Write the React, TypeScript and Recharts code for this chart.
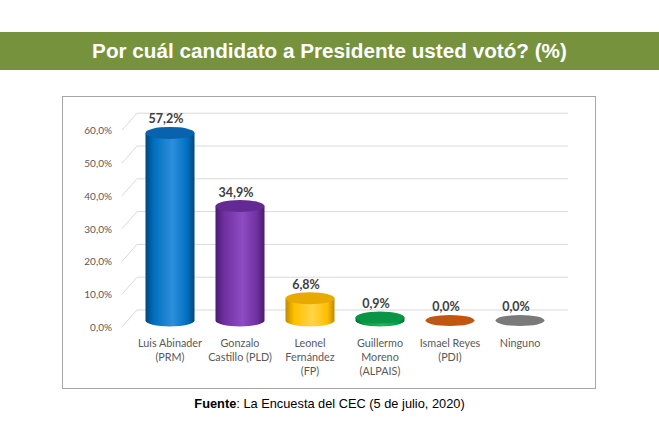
import React from 'react';
import { BarChart, Bar, XAxis, YAxis, CartesianGrid, LabelList } from 'recharts';

const candidateLines: string[][] = [
  ['Luis Abinader', '(PRM)'],
  ['Gonzalo', 'Castillo (PLD)'],
  ['Leonel', 'Fernández', '(FP)'],
  ['Guillermo', 'Moreno', '(ALPAIS)'],
  ['Ismael Reyes', '(PDI)'],
  ['Ninguno'],
];
const votePercent = [57.2, 34.9, 6.8, 0.9, 0.0, 0.0];
const yTicks = [0, 10, 20, 30, 40, 50, 60];

// base, dark edge, highlight, top ellipse
const palette = [
  ['#0070C0', '#00477F', '#2E8FDC', '#0862AE'],
  ['#7030A0', '#4A1A70', '#8D4CC2', '#652994'],
  ['#FFC000', '#C08A00', '#FFD447', '#E8AA00'],
  ['#00A04A', '#006F33', '#1DB85F', '#0A9446'],
  ['#C55A11', '#8E3D08', '#D8722A', '#C0560F'],
  ['#7F7F7F', '#5A5A5A', '#999999', '#7A7A7A'],
];

const data = candidateLines.map((lines, i) => ({
  name: lines.join('\n'),
  value: votePercent[i],
  idx: i,
}));

const fmt = (v: number) => v.toFixed(1).replace('.', ',') + '%';

const Cylinder = (props: any) => {
  const { x, y, width, height, payload } = props;
  const i = payload.idx;
  const [base, dark, light, top] = palette[i];
  const rx = width / 2;
  const ry = 6;
  const cx = x + rx;
  const yb = y + height;
  const gid = `cyl-${i}`;
  return (
    <g>
      <defs>
        <linearGradient id={gid} x1="0" y1="0" x2="1" y2="0">
          <stop offset="0%" stopColor={dark} />
          <stop offset="18%" stopColor={base} />
          <stop offset="55%" stopColor={light} />
          <stop offset="85%" stopColor={base} />
          <stop offset="100%" stopColor={dark} />
        </linearGradient>
      </defs>
      {height > 0.5 && (
        <path
          d={`M${x},${y} L${x},${yb} A${rx},${ry} 0 0 0 ${x + width},${yb} L${x + width},${y} Z`}
          fill={`url(#${gid})`}
        />
      )}
      <ellipse cx={cx} cy={y} rx={rx} ry={height > 0.5 ? ry : 5.5} fill={top} />
    </g>
  );
};

const YTick = (props: any) => {
  const { x, y, payload } = props;
  return (
    <text x={x - 23} y={y + 6.5} textAnchor="end" dominantBaseline="central" fill="#595959" fontSize={10} fontFamily="Lato">
      {fmt(payload.value)}
    </text>
  );
};

const XTick = (props: any) => {
  const { x, y, payload } = props;
  const lines = String(payload.value).split('\n');
  return (
    <g>
      {lines.map((l, k) => (
        <text key={k} x={x} y={y + 22 + 14 * k} textAnchor="middle" dominantBaseline="central" fill="#595959" fontSize={10.8} fontFamily="Lato">
          {l}
        </text>
      ))}
    </g>
  );
};

const ValueLabel = (props: any) => {
  const { x, y, width, value } = props;
  return (
    <text x={x + width / 2 - 4} y={y - 14} textAnchor="middle" dominantBaseline="central" fill="#404040" fontSize={12.5} fontWeight="bold" fontFamily="Lato">
      {fmt(value)}
    </text>
  );
};

const GridLine = (props: any) => {
  const { x1, x2, y1 } = props;
  return (
    <g key={`grid-${y1}`}>
      <line x1={x1 - 13} y1={y1 + 6.5} x2={x1 + 2} y2={y1 - 10.5} stroke="#D9D9D9" strokeWidth={1} />
      <line x1={x1 + 2} y1={y1 - 10.5} x2={x2 + 13} y2={y1 - 10.5} stroke="#D9D9D9" strokeWidth={1} />
    </g>
  );
};

export default function App() {
  return (
    <div style={{ position: 'absolute', left: 0, top: 0, width: 659, height: 424, background: '#fff', fontFamily: 'Liberation Sans' }}>
      <div style={{ position: 'absolute', left: 0, top: 32, width: 659, height: 38, background: '#76923C', color: '#fff', fontWeight: 'bold', fontSize: 20.7, lineHeight: '38px', textAlign: 'center' }}>
        Por cuál candidato a Presidente usted votó? (%)
      </div>
      <div style={{ position: 'absolute', left: 62, top: 96, width: 532, height: 291, border: '1px solid #A6A6A6' }} />
      <div style={{ position: 'absolute', left: 0, top: 396, width: 659, textAlign: 'center', fontSize: 12.8, color: '#000' }}>
        <b>Fuente</b>: La Encuesta del CEC (5 de julio, 2020)
      </div>
      <div style={{ position: 'absolute', left: 0, top: 0 }}>
        <BarChart width={659} height={424} data={data} barCategoryGap="15%" margin={{ top: 123.7, right: 104, bottom: 63.5, left: 60 }}>
          <CartesianGrid vertical={false} horizontal={GridLine} />
          <XAxis dataKey="name" height={40} axisLine={false} tickLine={false} tickSize={0} tickMargin={0} interval={0} tick={<XTick />} />
          <YAxis width={75} domain={[0, 60]} ticks={yTicks} axisLine={false} tickLine={false} tickSize={0} tickMargin={0} tick={<YTick />} />
          <Bar dataKey="value" shape={<Cylinder />} isAnimationActive={false}>
            <LabelList dataKey="value" content={<ValueLabel />} />
          </Bar>
        </BarChart>
      </div>
    </div>
  );
}
